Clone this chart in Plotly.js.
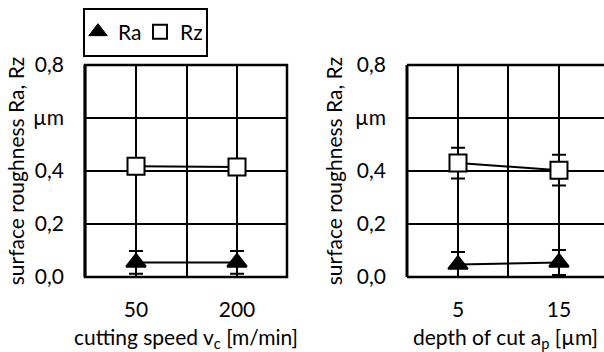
<!DOCTYPE html>
<html>
<head>
<meta charset="utf-8">
<script src="https://cdn.plot.ly/plotly-3.0.1.min.js"></script>
<style>html,body{margin:0;padding:0;background:#fff}#chart{width:604px;height:352px}</style>
</head>
<body>
<div id="chart"></div>
<script>
// Left panel: cutting speed
var speedLabels = ['50', '200'];
var speedRa = [0.055, 0.055];
var speedRaErr = [0.043, 0.043];
var speedRz = [0.418, 0.415];
var speedRzErr = [0.025, 0.025];

// Right panel: depth of cut
var depthLabels = ['5', '15'];
var depthRa = [0.047, 0.055];
var depthRaErr = [0.047, 0.047];
var depthRz = [0.43, 0.403];
var depthRzErr = [0.058, 0.058];

var yTickVals = [0, 0.2, 0.4, 0.6, 0.8];
var yTickText = ['0,0', '0,2', '0,4', 'µm', '0,8'];

var FONT = 'Lato, "Open Sans", sans-serif';
var fsz = 21;

function idx(arr) { return arr.map(function (_, i) { return i; }); }

function series(xa, ya, labels, vals, errs, symbol, fill, name) {
  return {
    type: 'scatter', mode: 'lines+markers',
    x: idx(labels), y: vals, xaxis: xa, yaxis: ya, name: name, showlegend: false,
    line: {color: '#000', width: 2},
    marker: {symbol: symbol, size: 17, color: fill, line: {color: '#000', width: 2}},
    error_y: {type: 'data', array: errs, visible: true, color: '#000', thickness: 2, width: 7},
    cliponaxis: false
  };
}

var traces = [
  series('x', 'y', speedLabels, speedRa, speedRaErr, 'triangle-up', '#000', 'Ra'),
  series('x', 'y', speedLabels, speedRz, speedRzErr, 'square', '#fff', 'Rz'),
  series('x2', 'y2', depthLabels, depthRa, depthRaErr, 'triangle-up', '#000', 'Ra'),
  series('x2', 'y2', depthLabels, depthRz, depthRzErr, 'square', '#fff', 'Rz'),
  {type: 'scatter', mode: 'markers', x: [null], y: [null], name: 'Ra', showlegend: true,
   marker: {symbol: 'triangle-up', size: 16, color: '#000', line: {color: '#000', width: 1}}},
  {type: 'scatter', mode: 'markers', x: [null], y: [null], name: 'Rz', showlegend: true,
   marker: {symbol: 'square', size: 14, color: '#fff', line: {color: '#000', width: 2}}}
];

function xaxis(labels, domain, range, title, anchor) {
  var tv = [0, 0.5, 1];
  var tt = [labels[0], '', labels[1]];
  return {
    domain: domain, range: range, anchor: anchor,
    tickmode: 'array', tickvals: tv, ticktext: tt,
    showgrid: true, gridcolor: '#000', gridwidth: 2,
    zeroline: false, showline: false, ticks: '', ticklabelstandoff: 18,
    tickfont: {family: FONT, size: fsz, color: '#000'},
    title: {text: title, font: {family: FONT, size: fsz, color: '#000'}, standoff: 12},
    fixedrange: true
  };
}
function yaxis(domain, anchor, standoff) {
  return {
    domain: domain, range: [0, 0.8], anchor: anchor,
    tickmode: 'array', tickvals: yTickVals, ticktext: yTickText,
    showgrid: true, gridcolor: '#000', gridwidth: 2,
    zeroline: false, showline: false, ticks: '', ticklabelstandoff: 20,
    tickfont: {family: FONT, size: fsz, color: '#000'},
    title: {text: 'surface roughness Ra, Rz', font: {family: FONT, size: fsz, color: '#000'}, standoff: standoff},
    fixedrange: true
  };
}

var yDom = [1 - 277 / 352, 1 - 65 / 352];

var shapes = [
  {type: 'rect', xref: 'x domain', yref: 'y domain', x0: 0, x1: 1, y0: 0, y1: 1, line: {color: '#000', width: 2.5}, layer: 'above'},
  {type: 'line', xref: 'x domain', yref: 'y domain', x0: 0, x1: 0, y0: 0, y1: 1, line: {color: '#000', width: 3}, layer: 'above'},
  {type: 'line', xref: 'x2 domain', yref: 'y2 domain', x0: 0, x1: 1, y0: 1, y1: 1, line: {color: '#000', width: 2.5}, layer: 'above'},
  {type: 'line', xref: 'x2 domain', yref: 'y2 domain', x0: 0, x1: 1, y0: 0, y1: 0, line: {color: '#000', width: 2.5}, layer: 'above'},
  {type: 'line', xref: 'x2 domain', yref: 'y2 domain', x0: 0, x1: 0, y0: 0, y1: 1, line: {color: '#000', width: 3}, layer: 'above'},
  // legend box
  {type: 'rect', xref: 'paper', yref: 'paper', x0: 84 / 604, x1: 207 / 604, y0: 1 - 56 / 352, y1: 1 - 9 / 352, line: {color: '#000', width: 2}, layer: 'below'}
];

var layout = {
  width: 604, height: 352,
  margin: {l: 0, r: 0, t: 0, b: 0, pad: 0},
  paper_bgcolor: '#fff', plot_bgcolor: '#fff',
  font: {family: FONT, size: fsz, color: '#000'},
  xaxis: xaxis(speedLabels, [85 / 604, 287 / 604], [-0.505, 1.495], 'cutting speed v<sub>c</sub> [m/min]', 'y'),
  yaxis: yaxis(yDom, 'x', 2),
  xaxis2: xaxis(depthLabels, [407 / 604, 1], [-0.505, 1.446], 'depth of cut a<sub>p</sub> [µm]', 'y2'),
  yaxis2: yaxis(yDom, 'x2', 6),
  shapes: shapes,
  showlegend: true,
  legend: {
    orientation: 'h', x: 78 / 604, xanchor: 'left', y: 1 - 32 / 352, yanchor: 'middle',
    borderwidth: 0, bgcolor: 'rgba(0,0,0,0)',
    font: {family: FONT, size: fsz, color: '#000'},
    entrywidth: 17, entrywidthmode: 'pixels', tracegroupgap: 0
  }
};

Plotly.newPlot('chart', traces, layout, {displayModeBar: false, staticPlot: true});
</script>
</body>
</html>
